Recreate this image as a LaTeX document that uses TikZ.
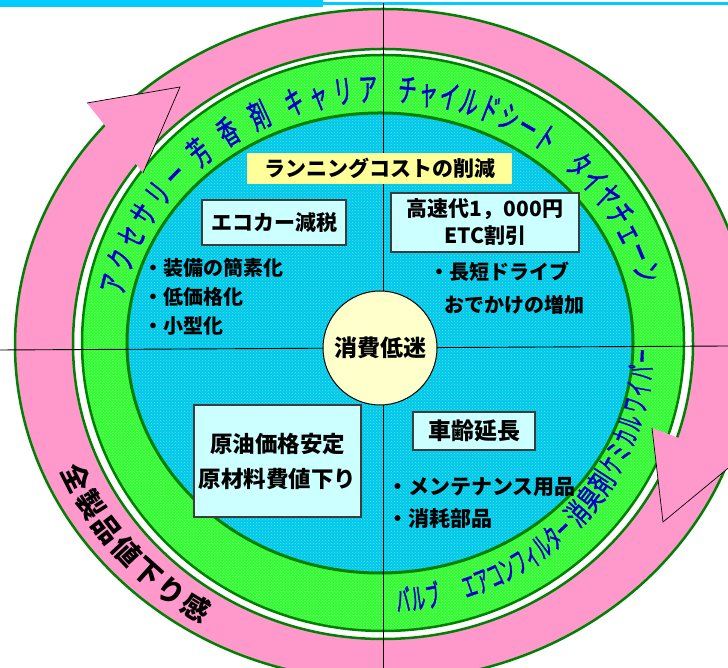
\documentclass[tikz,border=0pt]{standalone}
\usepackage{fontspec}
\setmainfont{Noto Sans CJK JP}
\newfontfamily\bandfontA[FakeStretch=0.56,FakeBold=1.2]{Noto Sans CJK JP}
\newfontfamily\bandfontB[FakeStretch=0.46,FakeBold=1.2]{Noto Sans CJK JP}
\newfontfamily\bandfontC[FakeStretch=0.66,FakeBold=1.2]{Noto Sans CJK JP}
\usetikzlibrary{decorations.text,patterns}
\definecolor{pinkc}{RGB}{255,153,204}
\definecolor{ringgreen}{RGB}{0,128,0}
\definecolor{bandgreen}{RGB}{51,250,51}
\definecolor{bandgreenlt}{RGB}{130,255,130}
\definecolor{cyanc}{RGB}{0,200,232}
\definecolor{cyanlt}{RGB}{90,225,245}
\definecolor{topcyan}{RGB}{0,204,255}
\definecolor{lightcyan}{RGB}{204,255,255}
\definecolor{boxgray}{RGB}{60,60,60}
\definecolor{yellowc}{RGB}{255,255,153}
\definecolor{creamc}{RGB}{255,255,204}
\definecolor{bandblue}{RGB}{0,0,205}
\newcommand\bandU{\bandfontA\fontsize{33}{33}\selectfont}
\newcommand\bandL{\bandfontB\fontsize{30}{30}\selectfont}
\newcommand\bandM{\bandfontC\fontsize{30}{30}\selectfont}
\newcommand\pinkfont{\bfseries\fontsize{28}{28}\selectfont}
\begin{document}
\begin{tikzpicture}[x=1pt,y=1pt,
  ringline/.style={draw=ringgreen,line width=2.5pt},
  infobox/.style={draw=boxgray,line width=1.2pt,fill=lightcyan,inner sep=0pt,align=center,font=\bfseries\fontsize{21}{27}\selectfont},
  body/.style={font=\bfseries\fontsize{20}{20}\selectfont,inner sep=0pt,anchor=west},
  hair/.style={draw=black,line width=0.9pt},
  headline/.style={draw=black,line width=0.7pt},
  arctext/.style={decorate,decoration={text along path,text align=fit to path,text color=bandblue,text={#1}}},
  pinktext/.style={decorate,decoration={text along path,text align=fit to path,text color=black,text={#1}}}
]
\useasboundingbox (0,0) rectangle (728,668);
\clip (0,0) rectangle (728,668);
\fill[white] (0,0) rectangle (728,668);
% top bar
\fill[topcyan] (0,661) rectangle (323,668);
\fill[topcyan] (323,663) rectangle (728,666.3);
% pink ring
\fill[pinkc,even odd rule] (383,323) ellipse[x radius=368,y radius=336] (383,324) ellipse[x radius=310,y radius=295];
\draw[ringline] (383,323) ellipse[x radius=368,y radius=336];
\draw[ringline] (383,324) ellipse[x radius=310,y radius=295];
% green band
\fill[bandgreen] (383,325) ellipse[x radius=301,y radius=288];
\fill[pattern=crosshatch dots,pattern color=bandgreenlt] (383,325) ellipse[x radius=301,y radius=288];
\draw[ringline] (383,325) ellipse[x radius=301,y radius=288];
% cyan core
\fill[cyanc] (380,325) ellipse[x radius=253,y radius=230];
\fill[pattern=crosshatch dots,pattern color=cyanlt] (380,325) ellipse[x radius=253,y radius=230];
\draw[ringgreen,line width=3pt] (380,325) ellipse[x radius=253,y radius=230];
% cross hair
\coordinate (vt) at (383,665);
\coordinate (vb) at (383,0);
\coordinate (hl) at (0,318);
\coordinate (hr) at (728,322);
\draw[hair] (vt) -- (vb);
\draw[hair] (hl) -- (hr);
% arrow heads
\coordinate (aOut) at (87,565);
\coordinate (aTip) at (180,581);
\coordinate (aIn) at (143,495);
\fill[pinkc] (aOut) -- (aTip) -- (aIn) -- cycle;
\draw[headline] (aOut) -- (aTip) -- (aIn);
\coordinate (bIn) at (652,240);
\coordinate (bTip) at (663,146);
\coordinate (bOut) at (738,208);
\fill[pinkc] (bIn) -- (bTip) -- (bOut) -- cycle;
\draw[headline] (bIn) -- (bTip) -- (bOut);
% boxes
\node[fill=yellowc,minimum width=265pt,minimum height=31pt,inner sep=0pt,font=\bfseries\fontsize{21}{21}\selectfont] (cost) at (379.5,499.5) {ランニングコストの削減};
\node[infobox,minimum width=144pt,minimum height=45pt] (eco) at (274,445.5) {エコカー減税};
\node[infobox,minimum width=188pt,minimum height=59pt] (toll) at (485,445.5) {高速代1，000円\\ETC割引};
\node[infobox,minimum width=167pt,minimum height=112pt,font=\bfseries\fontsize{22.5}{35}\selectfont] (oil) at (277.5,207) {原油価格安定\\原材料費値下り};
\node[infobox,minimum width=122pt,minimum height=38pt,font=\bfseries\fontsize{23}{23}\selectfont] (age) at (474,237) {車齢延長};
\node[circle,draw=black,line width=1pt,fill=creamc,minimum size=114pt,inner sep=0pt,font=\bfseries\fontsize{23}{23}\selectfont] (core) at (380,320) {消費低迷};
% bullet texts
\node[body] (b1) at (143,400) {・装備の簡素化};
\node[body] (b2) at (143,371) {・低価格化};
\node[body] (b3) at (143,342) {・小型化};
\node[body] (b4) at (429,396) {・長短ドライブ};
\node[body] (b5) at (444,363) {おでかけの増加};
\node[body,font=\bfseries\fontsize{21}{21}\selectfont] (b6) at (387,181) {・メンテナンス用品};
\node[body,font=\bfseries\fontsize{21}{21}\selectfont] (b7) at (387,149) {・消耗部品};
% upper band words (clockwise)
\path[arctext={|\bandU|アクセサリー}] ([shift={(168.8:264 and 242)}]382,325) arc[start angle=168.8,end angle=136.6,x radius=264,y radius=242];
\path[arctext={|\bandU|芳香剤}] ([shift={(133.6:264 and 242)}]382,325) arc[start angle=133.6,end angle=114.5,x radius=264,y radius=242];
\path[arctext={|\bandU|キャリア}] ([shift={(110.7:264 and 242)}]382,325) arc[start angle=110.7,end angle=90.9,x radius=264,y radius=242];
\path[arctext={|\bandU|チャイルドシート}] ([shift={(86.7:264 and 242)}]382,325) arc[start angle=86.7,end angle=51.4,x radius=264,y radius=242];
\path[arctext={|\bandU|タイヤチェーン}] ([shift={(46.4:264 and 242)}]382,325) arc[start angle=46.4,end angle=13.9,x radius=264,y radius=242];
% lower band words (counter-clockwise)
\path[arctext={|\bandL|バルブ}] ([shift={(-86.8:272 and 269)}]382,325) arc[start angle=-86.8,end angle=-77.3,x radius=272,y radius=269];
\path[arctext={|\bandL|エアコンフィルター}] ([shift={(-71.9:272 and 269)}]382,325) arc[start angle=-71.9,end angle=-44.6,x radius=272,y radius=269];
\path[arctext={|\bandM|消臭剤}] ([shift={(-43.6:272 and 269)}]382,325) arc[start angle=-43.6,end angle=-30.6,x radius=272,y radius=269];
\path[arctext={|\bandL|ケミカル}] ([shift={(-29.8:272 and 269)}]382,325) arc[start angle=-29.8,end angle=-16.5,x radius=272,y radius=269];
\path[arctext={|\bandL|ワイパー}] ([shift={(-15.5:272 and 269)}]382,325) arc[start angle=-15.5,end angle=-1.4,x radius=272,y radius=269];
% pink ring text
\path[pinktext={|\pinkfont|全製品値下り感}] ([shift={(202.8:350 and 327)}]383,324) arc[start angle=202.8,end angle=238.9,x radius=350,y radius=327];
\end{tikzpicture}
\end{document}
